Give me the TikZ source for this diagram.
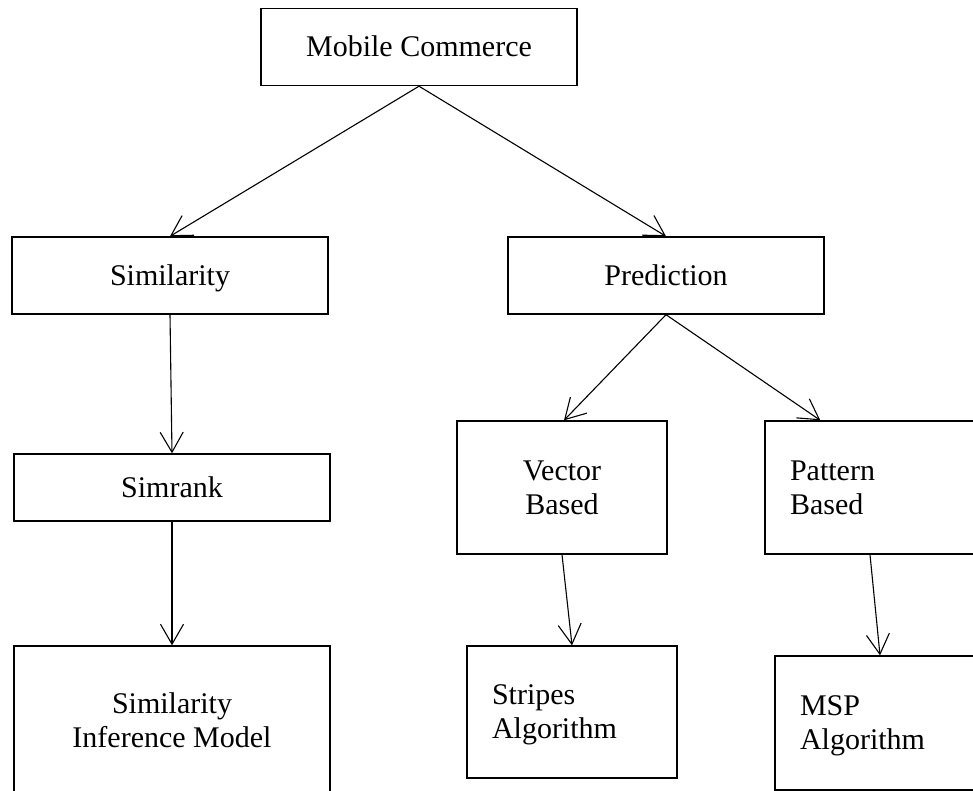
\documentclass[tikz,border=0pt]{standalone}
\usepackage{fontspec}
\setmainfont{Liberation Serif}
\usetikzlibrary{arrows.meta}
\newcommand{\ctwo}[2]{\begin{tabular}[t]{@{}c@{}}#1\\#2\end{tabular}}
\newcommand{\ltwo}[2]{\makebox[160pt][l]{\begin{tabular}[t]{@{}l@{}}#1\\#2\end{tabular}}}
\begin{document}
\begin{tikzpicture}[x=1pt,y=-1pt,
  box/.style={draw, line width=1.4pt, inner sep=0pt, font=\fontsize{30}{34}\selectfont, text height=19.9pt, text depth=0pt},
  two/.style={text depth=34pt},
  lbox/.style={box, two, inner xsep=25pt, minimum width=210pt},
  conn/.style={line width=1.1pt, -{Straight Barb[length=20pt,width=23pt,line width=1.1pt]}}]
\useasboundingbox (0,0) rectangle (973,790);
\clip (0,0) rectangle (973,790);
\fill[white] (0,0) rectangle (973,790);
\node[box, minimum width=316pt, minimum height=77pt] (mc) at (419,47) {Mobile Commerce};
\node[box, minimum width=316pt, minimum height=77pt] (sim) at (170,275.5) {Similarity};
\node[box, minimum width=316pt, minimum height=77pt] (pred) at (666,275.5) {Prediction};
\node[box, minimum width=316pt, minimum height=67pt] (simrank) at (172,487.5) {Simrank};
\node[box, two, minimum width=316pt, minimum height=150pt] (sim2) at (172,721) {\ctwo{Similarity}{Inference Model}};
\node[box, two, minimum width=210pt, minimum height=133pt] (vec) at (562,487.5) {\ctwo{Vector}{Based}};
\node[lbox, minimum height=133pt] (pat) at (870,487.5) {\ltwo{Pattern}{Based}};
\node[lbox, minimum height=132pt] (stripes) at (572,712) {\ltwo{Stripes}{Algorithm}};
\node[lbox, minimum height=134pt] (msp) at (880,723) {\ltwo{MSP}{Algorithm}};
\draw[conn] (mc.south) -- (sim.north);
\draw[conn] (mc.south) -- (pred.north);
\draw[conn] (sim.south) -- (simrank.north);
\draw[conn] (simrank.south) -- (sim2.north);
\draw[conn] (pred.south) -- ([xshift=2pt]vec.north);
\draw[conn] (pred.south) -- ([xshift=56pt]pat.north west);
\draw[conn] (vec.south) -- (stripes.north);
\draw[conn] (pat.south) -- (msp.north);
\end{tikzpicture}
\end{document}
